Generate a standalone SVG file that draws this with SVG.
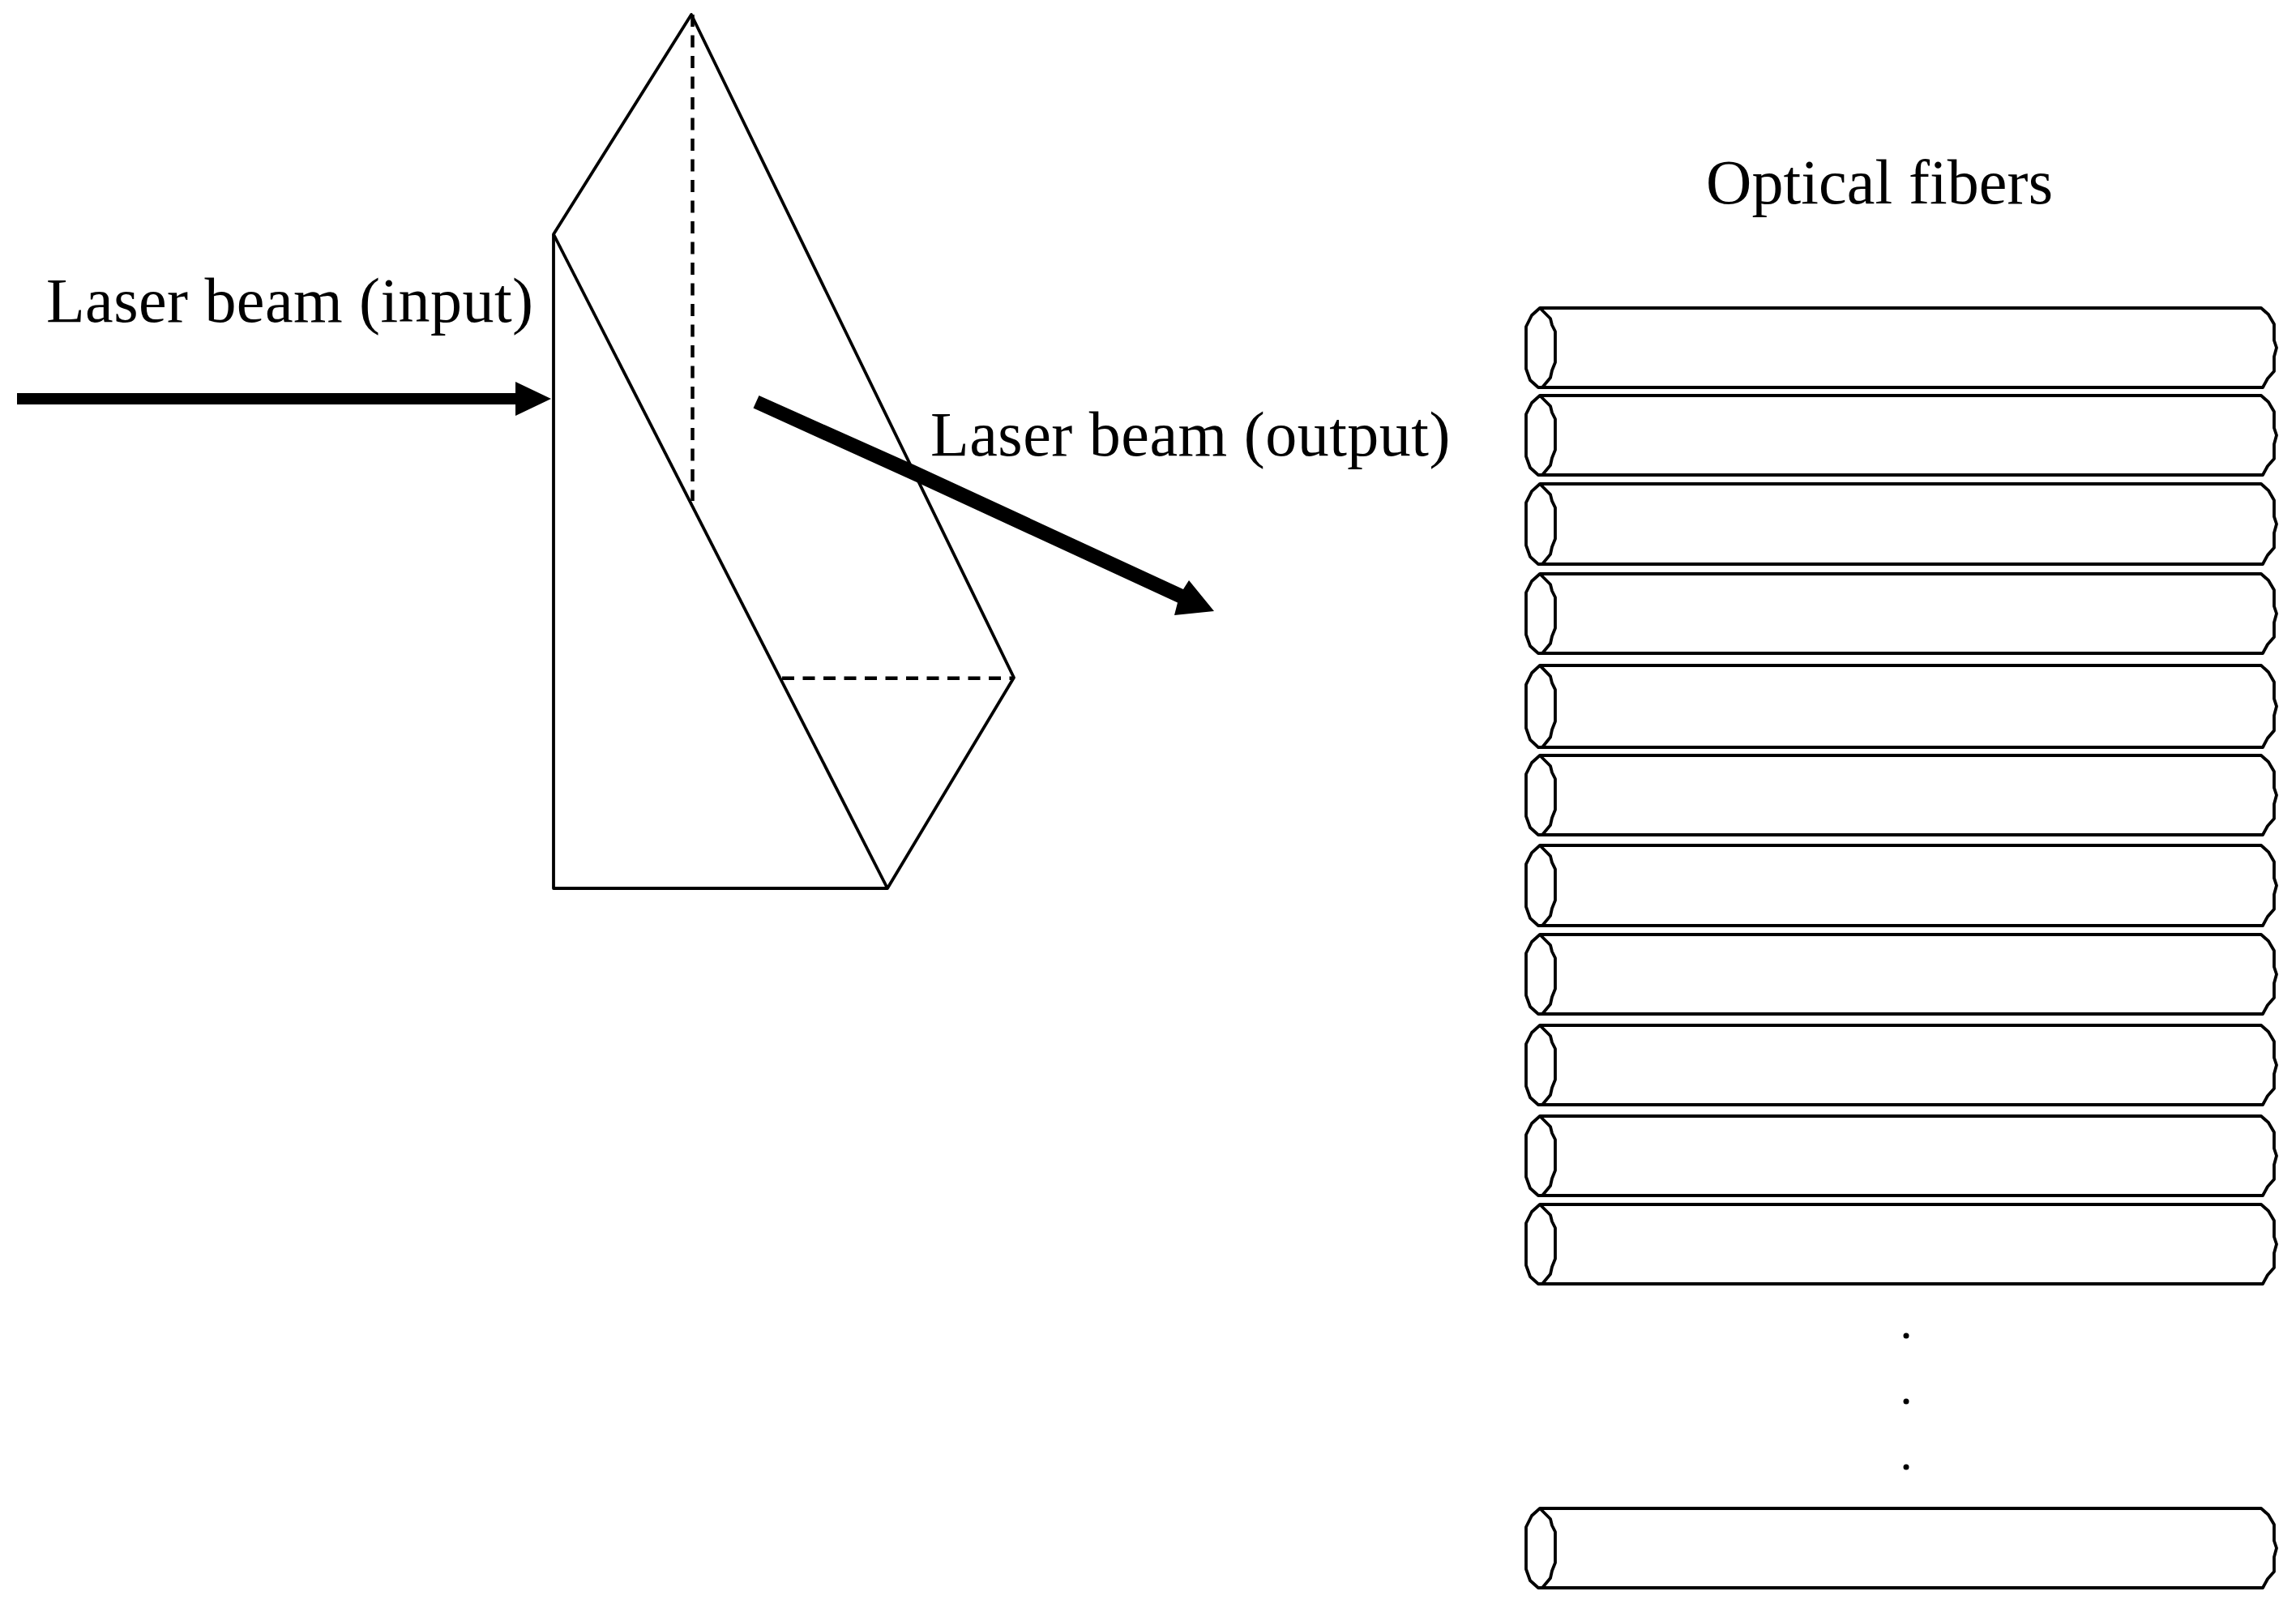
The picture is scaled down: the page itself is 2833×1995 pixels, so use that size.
<svg xmlns="http://www.w3.org/2000/svg" width="2833" height="1995" viewBox="0 0 2833 1995">
<style>
.o{fill:none;stroke:#000;stroke-width:3.8;stroke-linejoin:round}
.d{fill:none;stroke:#000;stroke-width:4.5;stroke-dasharray:15 10.5}
.t{font-family:"Liberation Serif","Times New Roman",serif;font-size:78px;fill:#000;font-variant-ligatures:none}
</style>
<defs>
<g id="fiber">
<path class="o" d="M1900 0L2790 0L2799 8L2806 20L2806 40L2809 49L2806 60L2806 78L2798 87L2792 98L1898 98"/>
<path class="o" d="M1900 0L1913 13L1915 21L1919 29L1919 67L1915 77L1913 86L1903 98L1898 98L1888 89L1883 75L1883 23L1890 9Z"/>
</g>
</defs>
<rect width="2833" height="1995" fill="#fff"/>
<g id="prism">
<path class="o" d="M853 18L683 289L683 1096L1095 1096L1251 836Z"/>
<path class="o" d="M683 289L1095 1096"/>
<path class="d" d="M854.500 18L854.500 618"/>
<path class="d" d="M965 836.700L1251 836.700"/>
</g>
<g id="fibers">
<g id="fiber-1"><use href="#fiber" y="380"/></g>
<g id="fiber-2"><use href="#fiber" y="488"/></g>
<g id="fiber-3"><use href="#fiber" transform="translate(0 597) scale(1 1.01)"/></g>
<g id="fiber-4"><use href="#fiber" y="708"/></g>
<g id="fiber-5"><use href="#fiber" transform="translate(0 821) scale(1 1.03)"/></g>
<g id="fiber-6"><use href="#fiber" y="932"/></g>
<g id="fiber-7"><use href="#fiber" transform="translate(0 1043) scale(1 1.01)"/></g>
<g id="fiber-8"><use href="#fiber" y="1153"/></g>
<g id="fiber-9"><use href="#fiber" y="1265"/></g>
<g id="fiber-10"><use href="#fiber" y="1377"/></g>
<g id="fiber-11"><use href="#fiber" y="1486"/></g>
<g id="fiber-12"><use href="#fiber" y="1861"/></g>
</g>
<g id="dots">
<circle cx="2352" cy="1648" r="3.500"/>
<circle cx="2352" cy="1729" r="3.500"/>
<circle cx="2352" cy="1810" r="3.500"/>
</g>
<g id="connectors">
<path d="M21 485L636 485L636 471L680 492L636 513L636 499L21 499Z"/>
<path d="M936.500 488L1128 573.500L1460 727L1467 716L1498 754L1449 759L1453 743.500L1128 593.500L929.500 503.500Z"/>
</g>
<g id="labels">
<text class="t" x="57" y="397" textLength="601">Laser beam (input)</text>
<text class="t" x="1148" y="562" textLength="641.500">Laser beam (output)</text>
<text class="t" x="2105" y="251" textLength="428">Optical fibers</text>
</g>
</svg>
